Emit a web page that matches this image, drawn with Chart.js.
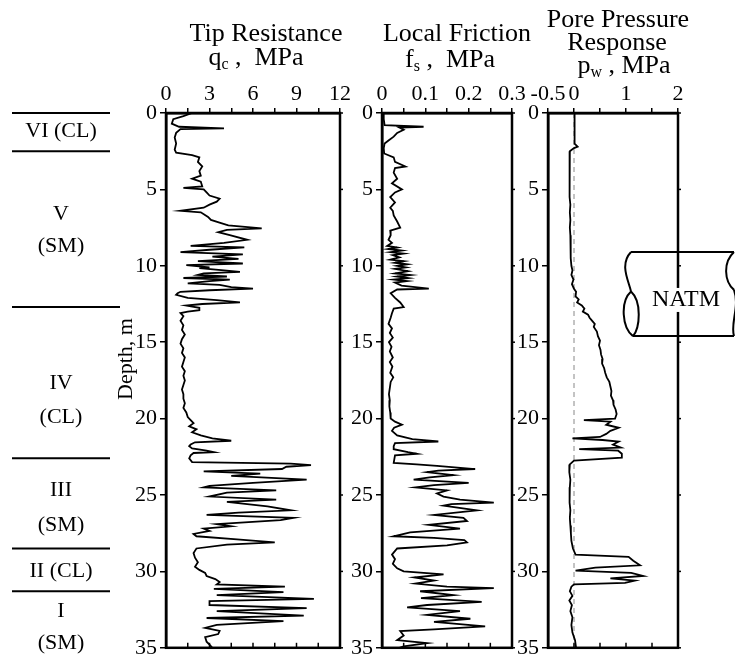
<!DOCTYPE html>
<html>
<head>
<meta charset="utf-8">
<title>CPTU profile</title>
<script src="https://cdn.jsdelivr.net/npm/chart.js@4.4.1/dist/chart.umd.min.js"></script>
<style>
  html, body { margin: 0; padding: 0; background: #fff; }
  #wrap { position: relative; width: 735px; height: 664px; }
  #wrap canvas { position: absolute; left: 0; top: 0; }
</style>
</head>
<body>
<div id="wrap">
  <canvas id="c-qc" width="735" height="664"></canvas>
  <canvas id="c-fs" width="735" height="664"></canvas>
  <canvas id="c-pw" width="735" height="664"></canvas>
</div>
<script>
/* ---------- Data: [depth m, value MPa] ---------- */
const qcProfile = [
  [0,1.8],[0.2,1.2],[0.4,0.5],[0.7,0.4],[0.9,0.9],[1.0,4.0],[1.05,1.0],[1.3,0.7],[1.6,0.6],[2.0,0.7],
  [2.4,0.6],[2.6,0.7],[2.75,1.8],[2.9,2.3],[3.2,2.2],[3.5,2.5],[3.8,2.3],[4.1,2.4],[4.3,1.8],[4.5,2.4],
  [4.8,2.5],[4.9,1.2],[5.0,2.6],[5.2,2.8],[5.4,3.0],[5.6,3.7],[5.8,3.5],[6.0,3.0],[6.2,2.6],[6.4,1.0],
  [6.5,2.4],[6.8,2.9],[7.0,3.1],[7.2,3.8],[7.35,4.3],[7.55,6.6],[7.65,4.2],[7.8,3.6],[8.0,4.4],[8.3,5.6],
  [8.5,4.0],[8.7,1.7],[8.8,5.4],[8.95,3.0],[9.1,1.0],[9.25,5.3],[9.4,3.2],[9.55,5.0],[9.7,2.2],[9.85,5.3],
  [9.95,1.4],[10.1,3.0],[10.15,2.3],[10.3,4.0],[10.4,5.1],[10.5,2.6],[10.6,2.2],[10.7,4.2],[10.8,1.2],[10.9,4.4],
  [11.0,3.0],[11.15,1.5],[11.25,3.7],[11.4,4.5],[11.5,6.0],[11.6,3.0],[11.7,1.0],[11.8,0.8],[11.9,0.7],[12.1,1.5],
  [12.25,3.5],[12.4,5.1],[12.5,2.5],[12.6,1.4],[12.75,2.3],[12.9,2.3],[13.0,1.5],[13.1,1.0],[13.3,1.2],[13.6,1.0],
  [13.9,1.2],[14.2,1.1],[14.5,1.3],[14.8,1.1],[15.1,1.0],[15.4,1.2],[15.7,1.1],[16.0,1.3],[16.3,1.2],[16.6,1.1],
  [16.9,1.3],[17.2,1.2],[17.5,1.3],[17.8,1.2],[18.1,1.1],[18.4,1.2],[18.7,1.2],[19.0,1.3],[19.3,1.2],[19.6,1.4],
  [19.9,1.5],[20.1,1.7],[20.3,1.9],[20.5,1.6],[20.7,2.1],[20.9,1.8],[21.1,2.4],[21.3,3.2],[21.45,4.5],[21.55,2.0],
  [21.7,1.7],[21.8,1.6],[21.95,1.8],[22.1,2.8],[22.2,3.3],[22.25,1.9],[22.4,1.7],[22.6,1.6],[22.85,1.8],[22.95,8.6],
  [23.05,10.0],[23.15,8.3],[23.3,8.0],[23.45,2.6],[23.6,6.5],[23.75,4.5],[24.0,9.7],[24.2,6.0],[24.4,3.0],[24.5,2.6],
  [24.7,7.6],[24.85,4.2],[25.1,3.0],[25.3,7.6],[25.45,4.2],[25.6,5.6],[25.75,7.0],[26.0,8.6],[26.15,5.0],[26.3,2.8],
  [26.5,8.8],[26.65,7.9],[26.9,3.5],[27.05,4.5],[27.2,2.6],[27.35,3.0],[27.55,1.9],[27.7,2.1],[27.9,4.9],[28.1,7.5],
  [28.25,4.2],[28.5,2.1],[28.8,1.9],[29.1,2.0],[29.4,2.2],[29.7,2.0],[29.9,2.3],[30.1,2.7],[30.3,2.8],[30.5,3.4],
  [30.7,3.7],[30.85,3.5],[31.0,8.2],[31.15,3.3],[31.35,8.1],[31.55,3.5],[31.8,10.2],[31.95,3.0],[32.2,3.0],[32.4,9.7],
  [32.6,3.5],[32.9,9.5],[33.05,2.8],[33.25,8.1],[33.5,3.5],[33.7,2.7],[33.9,3.7],[34.1,3.6],[34.3,2.7],[34.6,2.8],
  [34.8,3.0],[35.0,3.2]
];

const fsProfile = [
  [0,0.004],[0.4,0.004],[0.8,0.006],[0.9,0.096],[0.95,0.04],[1.1,0.05],[1.3,0.035],[1.55,0.027],[1.8,0.015],[2.0,0.006],
  [2.3,0.004],[2.65,0.005],[2.9,0.027],[3.2,0.03],[3.5,0.054],[3.6,0.03],[3.9,0.027],[4.3,0.035],[4.6,0.023],[5.0,0.046],
  [5.2,0.03],[5.5,0.019],[5.85,0.03],[6.2,0.019],[6.4,0.025],[6.7,0.027],[7.1,0.035],[7.5,0.042],[7.7,0.019],[8.0,0.02],
  [8.3,0.015],[8.5,0.023],[8.7,0.012],[8.8,0.035],[8.9,0.015],[9.0,0.045],[9.1,0.02],[9.2,0.05],[9.3,0.025],[9.45,0.04],
  [9.6,0.019],[9.7,0.05],[9.8,0.03],[9.9,0.058],[10.0,0.035],[10.1,0.055],[10.2,0.03],[10.35,0.06],[10.5,0.03],[10.6,0.065],
  [10.7,0.035],[10.8,0.06],[10.9,0.027],[11.0,0.058],[11.1,0.03],[11.3,0.045],[11.5,0.108],[11.55,0.035],[11.8,0.02],[12.1,0.03],
  [12.4,0.042],[12.7,0.05],[12.8,0.027],[13.1,0.023],[13.4,0.02],[13.8,0.015],[14.1,0.023],[14.4,0.018],[14.7,0.025],[15.0,0.016],
  [15.3,0.022],[15.6,0.018],[16.0,0.025],[16.3,0.018],[16.6,0.024],[17.0,0.019],[17.3,0.026],[17.6,0.02],[18.0,0.018],[18.4,0.016],
  [18.8,0.018],[19.2,0.017],[19.6,0.019],[20.0,0.02],[20.2,0.03],[20.4,0.046],[20.6,0.028],[20.8,0.023],[21.1,0.035],[21.35,0.07],
  [21.5,0.13],[21.6,0.03],[21.8,0.027],[22.0,0.027],[22.2,0.06],[22.3,0.08],[22.4,0.03],[22.9,0.027],[23.0,0.08],[23.1,0.127],
  [23.3,0.215],[23.4,0.13],[23.5,0.104],[23.7,0.165],[23.85,0.11],[24.0,0.073],[24.2,0.2],[24.35,0.12],[24.5,0.077],[24.7,0.15],
  [24.9,0.127],[25.1,0.142],[25.3,0.18],[25.5,0.258],[25.6,0.16],[25.7,0.142],[26.0,0.219],[26.3,0.12],[26.5,0.188],[26.7,0.196],
  [26.95,0.108],[27.2,0.18],[27.45,0.065],[27.7,0.027],[27.8,0.12],[27.95,0.19],[28.1,0.196],[28.3,0.15],[28.5,0.035],[28.9,0.023],
  [29.2,0.03],[29.5,0.025],[29.8,0.035],[30.0,0.05],[30.2,0.142],[30.4,0.075],[30.6,0.12],[30.8,0.077],[31.0,0.15],[31.1,0.258],
  [31.3,0.088],[31.55,0.165],[31.75,0.09],[32.0,0.23],[32.2,0.104],[32.35,0.058],[32.6,0.18],[32.85,0.104],[33.1,0.204],[33.3,0.12],
  [33.6,0.238],[33.8,0.12],[33.9,0.042],[34.2,0.05],[34.5,0.035],[34.7,0.104],[34.9,0.05],[35.0,0.04]
];

const pwProfile = [
  [0,0.01],[0.5,0.01],[1.0,0.015],[1.5,0.01],[2.0,0.01],[2.2,0.07],[2.3,0.0],[2.5,-0.08],[3.0,-0.09],[3.5,-0.08],
  [4.0,-0.09],[4.5,-0.08],[5.0,-0.09],[5.5,-0.08],[6.0,-0.07],[6.5,-0.08],[7.0,-0.07],[7.5,-0.08],[8.0,-0.07],[8.5,-0.06],
  [9.0,-0.07],[9.5,-0.06],[10.0,-0.05],[10.3,-0.03],[10.6,-0.05],[10.9,-0.01],[11.2,-0.04],[11.5,0.0],[11.7,0.04],[12.0,0.03],
  [12.2,0.09],[12.4,0.06],[12.6,0.15],[12.8,0.2],[13.0,0.17],[13.2,0.27],[13.4,0.3],[13.6,0.35],[13.8,0.4],[14.0,0.38],
  [14.3,0.44],[14.6,0.46],[14.9,0.5],[15.2,0.48],[15.5,0.51],[15.8,0.52],[16.1,0.55],[16.4,0.54],[16.7,0.58],[17.0,0.6],
  [17.3,0.63],[17.6,0.68],[17.9,0.7],[18.2,0.72],[18.5,0.71],[18.8,0.75],[19.1,0.76],[19.4,0.8],[19.7,0.82],[20.0,0.79],
  [20.1,0.19],[20.2,0.7],[20.4,0.62],[20.6,0.86],[20.8,0.7],[21.0,0.62],[21.2,0.5],[21.3,-0.03],[21.4,0.55],[21.5,0.86],
  [21.7,0.75],[21.9,0.9],[22.0,0.1],[22.1,0.85],[22.3,0.92],[22.55,0.92],[22.75,0.0],[23.0,-0.08],[23.5,-0.09],[24.0,-0.07],
  [24.5,-0.08],[25.0,-0.09],[25.5,-0.08],[26.0,-0.07],[26.5,-0.08],[27.0,-0.07],[27.5,-0.06],[28.0,-0.05],[28.5,-0.02],[28.9,0.03],
  [29.05,1.05],[29.3,1.14],[29.6,1.27],[29.75,0.41],[29.95,0.03],[30.1,1.1],[30.3,1.33],[30.45,0.7],[30.6,1.17],[30.75,0.98],
  [30.85,0.0],[31.0,-0.05],[31.3,-0.08],[31.6,-0.03],[31.9,-0.09],[32.2,-0.04],[32.6,-0.07],[33.0,-0.03],[33.5,-0.05],[34.0,-0.03],
  [34.5,0.02],[35.0,0.04]
];

// hydrostatic reference (dashed) in the pore pressure panel
const pwReference = [[0, 0], [35, 0]];

// soil layers: boundaries (m) and labels at their depths
const layerBounds = [0, 2.5, 12.7, 22.6, 28.5, 31.3];
const layerLabels = ['VI (CL)', 'V', '(SM)', 'IV', '(CL)', 'III', '(SM)', 'II (CL)', 'I', '(SM)'];
const layerLabelDepth = [1.2, 6.6, 8.7, 17.7, 19.9, 24.7, 27.0, 30.0, 32.6, 34.7];

// tunnel marker
const natmTop = 9.1, natmBottom = 14.6;

/* ---------- Common style ---------- */
const SERIF = '"Liberation Serif", "Times New Roman", Times, serif';
const TICK_FONT = { family: SERIF, size: 22 };

function toPoints(profile) {
  return profile.map(p => ({ x: p[1], y: p[0] }));
}

function drawParts(ctx, parts, cx, cy) {
  // parts: [text, size, dy]
  let total = 0;
  parts.forEach(p => { ctx.font = p[1] + 'px ' + SERIF; total += ctx.measureText(p[0]).width; });
  let x = cx - total / 2;
  parts.forEach(p => {
    ctx.font = p[1] + 'px ' + SERIF;
    ctx.fillText(p[0], x, cy + p[2]);
    x += ctx.measureText(p[0]).width;
  });
}

const framePlugin = {
  id: 'frame',
  afterDraw(chart) {
    const { ctx, chartArea: a, scales: { x, y } } = chart;
    ctx.save();
    ctx.strokeStyle = '#000';
    ctx.lineWidth = 2.5;
    ctx.strokeRect(a.left, a.top, a.right - a.left, a.bottom - a.top);
    ctx.lineWidth = 1.5;
    x.ticks.forEach(t => {
      const px = x.getPixelForValue(t.value);
      ctx.beginPath(); ctx.moveTo(px, a.bottom); ctx.lineTo(px, a.bottom - 5); ctx.stroke();
    });
    y.ticks.forEach(t => {
      const py = y.getPixelForValue(t.value);
      ctx.beginPath(); ctx.moveTo(a.right, py); ctx.lineTo(a.right + 3, py); ctx.stroke();
    });
    ctx.restore();
  }
};

function titlePlugin(lines) {
  return {
    id: 'titles',
    afterDraw(chart) {
      const ctx = chart.ctx;
      ctx.save();
      ctx.fillStyle = '#000';
      ctx.textBaseline = 'middle';
      ctx.textAlign = 'left';
      lines.forEach(l => drawParts(ctx, l.parts, l.x, l.y));
      ctx.restore();
    }
  };
}

// chart area in page pixels: left, top, right, bottom
function makePanel(id, area, xOpts, datasets, plugins) {
  const [L, T, R, B] = area;
  return new Chart(document.getElementById(id), {
    type: 'scatter',
    data: { datasets },
    options: {
      responsive: false,
      animation: false,
      layout: { padding: { left: L - 40, top: T - 30, right: 735 - R, bottom: 664 - B } },
      plugins: { legend: { display: false }, tooltip: { enabled: false } },
      elements: { point: { radius: 0 }, line: { tension: 0 } },
      scales: {
        x: {
          type: 'linear', position: 'top',
          min: xOpts.min, max: xOpts.max,
          afterFit: s => { s.height = 30; },
          ticks: {
            stepSize: xOpts.step, autoSkip: false, maxRotation: 0, padding: 1,
            color: '#000', font: TICK_FONT,
            callback: xOpts.label
          },
          afterBuildTicks: s => { s.ticks = xOpts.ticks.map(v => ({ value: v })); },
          grid: { drawOnChartArea: false, tickLength: 5, color: '#000', lineWidth: 1.5 },
          border: { display: true, color: '#000', width: 2.5 }
        },
        y: {
          type: 'linear', position: 'left', reverse: true,
          min: 0, max: 35,
          afterFit: s => { s.width = 40; },
          ticks: { stepSize: 5, padding: 3, color: '#000', font: TICK_FONT },
          grid: { drawOnChartArea: false, tickLength: 6, color: '#000', lineWidth: 1.5 },
          border: { display: true, color: '#000', width: 2.5 }
        }
      }
    },
    plugins: [framePlugin].concat(plugins)
  });
}

function trace(profile) {
  return { data: toPoints(profile), showLine: true, borderColor: '#000', borderWidth: 1.8, pointRadius: 0, fill: false };
}

/* ---------- Soil column on the left of the first panel ---------- */
const strataPlugin = {
  id: 'strata',
  afterDraw(chart) {
    const { ctx, scales: { y } } = chart;
    ctx.save();
    ctx.strokeStyle = '#000';
    ctx.fillStyle = '#000';
    ctx.lineWidth = 2;
    layerBounds.forEach((d, i) => {
      const py = y.getPixelForValue(d);
      ctx.beginPath();
      ctx.moveTo(12, py);
      ctx.lineTo(i === 2 ? 120 : 110, py);
      ctx.stroke();
    });
    ctx.font = '22px ' + SERIF;
    ctx.textAlign = 'center';
    ctx.textBaseline = 'middle';
    layerLabels.forEach((t, i) => ctx.fillText(t, 61, y.getPixelForValue(layerLabelDepth[i])));
    // axis title
    ctx.translate(126, y.getPixelForValue(16.1));
    ctx.rotate(-Math.PI / 2);
    ctx.fillText('Depth, m', 0, 0);
    ctx.restore();
  }
};

/* ---------- Tunnel marker beside the pore pressure panel ---------- */
const natmPlugin = {
  id: 'natm',
  afterDraw(chart) {
    const { ctx, chartArea: a, scales: { y } } = chart;
    const t = y.getPixelForValue(natmTop), b = y.getPixelForValue(natmBottom);
    const h = b - t, xl = a.right - 47, xr = 734;
    ctx.save();
    ctx.strokeStyle = '#000';
    ctx.lineWidth = 2;
    ctx.beginPath();
    ctx.moveTo(xl, t); ctx.lineTo(xr, t);
    ctx.moveTo(xl + 2, b); ctx.lineTo(xr, b);
    // left end: S-curve then lens
    const m = t + h * 0.47;
    ctx.moveTo(xl, t);
    ctx.bezierCurveTo(xl - 12, t + h * 0.15, xl - 2, m - h * 0.12, xl, m);
    ctx.moveTo(xl, m);
    ctx.bezierCurveTo(xl - 11, m + h * 0.12, xl - 9, b - h * 0.1, xl + 2, b);
    ctx.moveTo(xl, m);
    ctx.bezierCurveTo(xl + 11, m + h * 0.12, xl + 9, b - h * 0.1, xl + 2, b);
    // right end
    const m2 = t + h * 0.45;
    ctx.moveTo(xr, t);
    ctx.bezierCurveTo(xr - 11, t + h * 0.12, xr - 10, m2 - h * 0.1, xr, m2);
    ctx.moveTo(xr, m2);
    ctx.bezierCurveTo(xr + 6, m2 + h * 0.2, xr - 4, b - h * 0.15, xr, b);
    ctx.stroke();
    // label with white backing over the panel edge
    ctx.font = '24px ' + SERIF;
    ctx.textAlign = 'center';
    ctx.textBaseline = 'middle';
    const cx = xl + 55, cy = t + h * 0.57;
    const w = ctx.measureText('NATM').width;
    ctx.fillStyle = '#fff';
    ctx.fillRect(cx - w / 2 - 2, cy - 12, w + 4, 24);
    ctx.fillStyle = '#000';
    ctx.fillText('NATM', cx, cy);
    ctx.restore();
  }
};

/* ---------- Panels ---------- */
makePanel('c-qc', [166, 113, 340, 650],
  { min: 0, max: 12, step: 1.5, ticks: [0, 1.5, 3, 4.5, 6, 7.5, 9, 10.5, 12],
    label: v => (v % 3 === 0 ? String(v) : '') },
  [trace(qcProfile)],
  [strataPlugin, titlePlugin([
    { x: 266, y: 34, parts: [['Tip Resistance', 26, 0]] },
    { x: 256, y: 58, parts: [['q', 26, 0], ['c', 16, 7], [' ,  MPa', 26, 0]] }
  ])]);

makePanel('c-fs', [382, 113, 512, 650],
  { min: 0, max: 0.3, step: 0.05, ticks: [0, 0.05, 0.1, 0.15, 0.2, 0.25, 0.3],
    label: v => { const k = Math.round(v * 100); return k % 10 === 0 ? (k === 0 ? '0' : (k / 100).toFixed(1)) : ''; } },
  [trace(fsProfile)],
  [titlePlugin([
    { x: 457, y: 34, parts: [['Local Friction', 26, 0]] },
    { x: 450, y: 60, parts: [['f', 26, 0], ['s', 16, 7], [' ,  MPa', 26, 0]] }
  ])]);

makePanel('c-pw', [548, 113, 678, 650],
  { min: -0.5, max: 2, step: 0.5, ticks: [-0.5, 0, 0.5, 1, 1.5, 2],
    label: v => (v === -0.5 ? '-0.5' : Number.isInteger(v) ? String(v) : '') },
  [trace(pwProfile),
   { data: toPoints(pwReference), showLine: true, borderColor: '#888', borderWidth: 1, borderDash: [5, 4], pointRadius: 0 }],
  [natmPlugin, titlePlugin([
    { x: 618, y: 20, parts: [['Pore Pressure', 26, 0]] },
    { x: 617, y: 43, parts: [['Response', 26, 0]] },
    { x: 624, y: 66, parts: [['p', 26, 0], ['w', 16, 7], [' , MPa', 26, 0]] }
  ])]);
</script>
</body>
</html>
